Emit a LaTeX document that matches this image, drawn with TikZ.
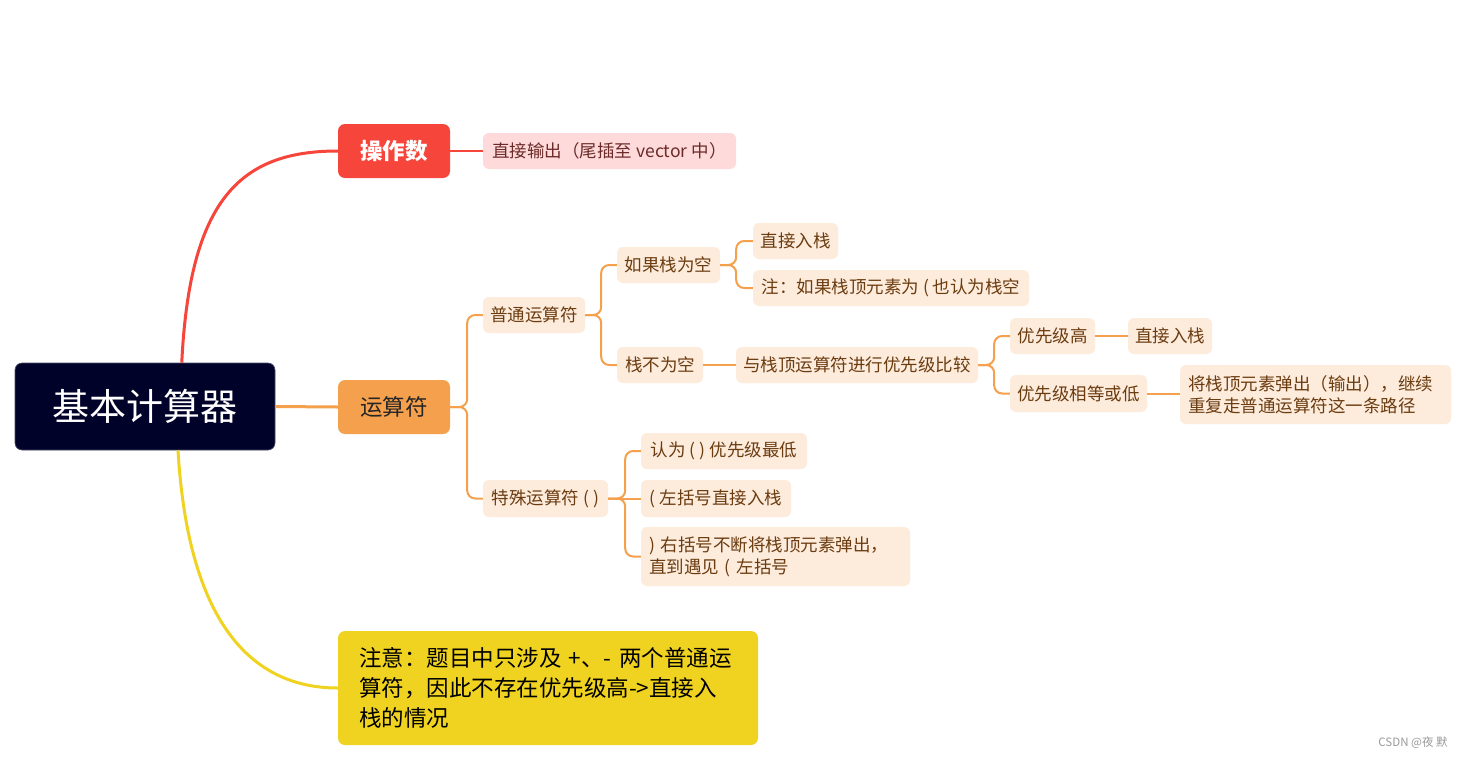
\documentclass[tikz,border=0pt]{standalone}
\usepackage{fontspec}
\setmainfont{Noto Sans CJK SC}
\usetikzlibrary{calc}
\definecolor{rootc}{HTML}{000229}
\definecolor{redc}{HTML}{F6453B}
\definecolor{pinkc}{HTML}{FFDADA}
\definecolor{pinkt}{HTML}{6A2B29}
\definecolor{orc}{HTML}{F5A04C}
\definecolor{lorc}{HTML}{FDEBDC}
\definecolor{brownt}{HTML}{6B3C10}
\definecolor{yelc}{HTML}{F0D321}
\definecolor{wmc}{HTML}{9A9A9A}
\begin{document}
\begin{tikzpicture}[x=1pt,y=-1pt,
  box/.style={rectangle, rounded corners=6pt, inner sep=0pt, align=left},
  leaf/.style={box, fill=lorc, text=brownt, font=\fontsize{17.5}{22}\selectfont},
  main/.style={box, rounded corners=7pt, font=\fontsize{22.5}{27}\selectfont},
  redline/.style={draw=redc, line width=3pt},
  redthin/.style={draw=redc, line width=2pt},
  orline/.style={draw=orc, line width=2pt, rounded corners=8pt},
  ormain/.style={draw=orc, line width=3pt},
  yelline/.style={draw=yelc, line width=3pt}]
\useasboundingbox (0,0) rectangle (1467,758);
\fill[white] (0,0) rectangle (1467,758);

% nodes
\node[box, rounded corners=7pt, fill=rootc, draw=rootc!70!white, line width=0.6pt, text=white, font=\fontsize{37}{44}\selectfont, minimum width=260, minimum height=87] (root) at (145,406.5) {基本计算器};
\node[main, fill=redc, text=white, minimum width=112, minimum height=54] (op) at (394,151) {\textbf{操作数}};
\node[box, fill=pinkc, text=pinkt, font=\fontsize{17.5}{22}\selectfont, minimum width=253, minimum height=36] (out) at (609.5,151) {直接输出（尾插至 vector 中）};
\node[main, fill=orc, text=black!85, minimum width=112, minimum height=54] (ys) at (394,407) {运算符};
\node[leaf, minimum width=102, minimum height=36] (pt) at (534,315) {普通运算符};
\node[leaf, minimum width=103, minimum height=36] (empty) at (668.5,265) {如果栈为空};
\node[leaf, minimum width=85, minimum height=36] (push1) at (795.5,241) {直接入栈};
\node[leaf, minimum width=276, minimum height=36] (note1) at (891,288) {注：如果栈顶元素为 ( 也认为栈空};
\node[leaf, minimum width=86, minimum height=36] (nonempty) at (660,365) {栈不为空};
\node[leaf, minimum width=242, minimum height=36] (cmp) at (857,365) {与栈顶运算符进行优先级比较};
\node[leaf, minimum width=85, minimum height=36] (high) at (1052.5,336) {优先级高};
\node[leaf, minimum width=84, minimum height=36] (push2) at (1170,336) {直接入栈};
\node[leaf, minimum width=137, minimum height=37] (low) at (1078.5,393.5) {优先级相等或低};
\node[leaf, text width=255, minimum height=59, inner xsep=8pt] (pop) at (1315.5,394.5) {将栈顶元素弹出（输出），继续\\重复走普通运算符这一条路径};
\node[leaf, minimum width=125, minimum height=37] (special) at (545.5,498.5) {特殊运算符 ( )};
\node[leaf, minimum width=166, minimum height=36] (lowest) at (724,451) {认为 ( ) 优先级最低};
\node[leaf, minimum width=150, minimum height=37] (lpar) at (716,498.5) {( 左括号直接入栈};
\node[leaf, text width=253, minimum height=59, inner xsep=8pt] (rpar) at (775.5,556.5) {) 右括号不断将栈顶元素弹出，\\直到遇见 ( 左括号};
\node[box, rounded corners=7pt, fill=yelc, text=black, font=\fontsize{22.5}{30}\selectfont, text width=378, inner xsep=21pt, inner ysep=0pt, minimum height=114] (yel) at (548,688) {注意：题目中只涉及 +、- 两个普通运\\算符，因此不存在优先级高->直接入\\栈的情况};
\node[font=\fontsize{11.5}{14}\selectfont, inner sep=0pt, text=wmc] (wm) at (1413,743) {CSDN @夜 默};

% main connectors
\draw[redline] (root.50) .. controls +(8,-163) and +(-98,0) .. (op.west);
\draw[ormain] (root.east) -- (ys.west);
\draw[yelline] (root.-53) .. controls +(10,170) and +(-88,0) .. (yel.west);
\draw[redthin] (op.east) -- (out.west);

% operator tree
\draw[orline] (ys.east) -- ++(17,0) |- (pt.west);
\draw[orline] (ys.east) -- ++(17,0) |- (special.west);
\draw[orline] (pt.east) -- ++(16,0) |- (empty.west);
\draw[orline] (pt.east) -- ++(16,0) |- (nonempty.west);
\draw[orline] (empty.east) -- ++(16,0) |- (push1.west);
\draw[orline] (empty.east) -- ++(16,0) |- (note1.west);
\draw[orline] (nonempty.east) -- (cmp.west);
\draw[orline] (cmp.east) -- ++(16,0) |- (high.west);
\draw[orline] (cmp.east) -- ++(16,0) |- (low.west);
\draw[orline] (high.east) -- (push2.west);
\draw[orline] (low.east) -- (pop.west |- low.east);
\draw[orline] (special.east) -- ++(17,0) |- (lowest.west);
\draw[orline] (special.east) -- (lpar.west);
\draw[orline] (special.east) -- ++(17,0) |- (rpar.west);
\end{tikzpicture}
\end{document}
